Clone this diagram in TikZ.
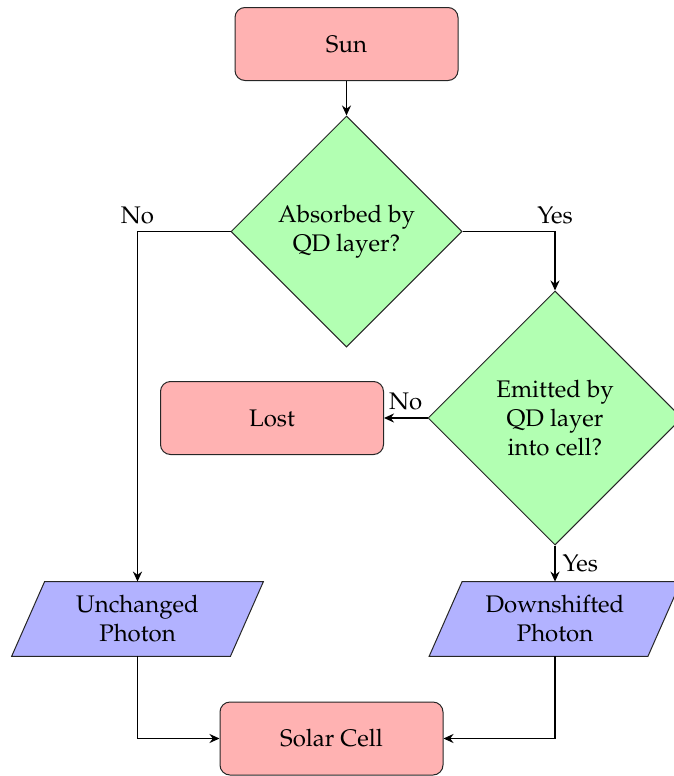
\documentclass[tikz,border=0pt]{standalone}
\usepackage[T1]{fontenc}
\usepackage{mathpazo}
\usetikzlibrary{shapes.geometric,arrows.meta,backgrounds,calc}
\begin{document}
\begin{tikzpicture}[x=0.5pt,y=-0.5pt,
  every node/.style={font=\fontsize{12}{14.5}\selectfont},
  procbox/.style={rectangle, rounded corners=5pt, draw=black!85, line width=0.5pt, fill=red!30, minimum width=111.5pt, minimum height=36.5pt, align=center, inner sep=0pt},
  decbox/.style={diamond, draw=black!85, line width=0.5pt, fill=green!30, align=center, inner sep=0pt},
  iobox/.style={rectangle, minimum width=109pt, minimum height=37pt, inner sep=0pt, align=center},
  iofill/.style={draw=black!85, line width=0.5pt, fill=blue!30},
  conn/.style={draw, line width=0.9pt, -{Stealth[length=5pt,width=4.5pt]}}]
\useasboundingbox (0,0) rectangle (674,776);
\node[procbox] (sun) at (346.5,44) {Sun};
\node[decbox, minimum size=115.5pt] (d1) at (346.5,231.5) {Absorbed by\\QD layer?};
\node[decbox, minimum size=127pt] (d2) at (555,418) {Emitted by\\QD layer\\into cell?};
\node[procbox] (lost) at (272,418) {Lost};
\node[iobox] (unch) at (137.5,619) {Unchanged\\Photon};
\node[iobox] (down) at (555,619) {Downshifted\\Photon};
\node[procbox] (cell) at (331.5,738.5) {Solar Cell};
\begin{scope}[on background layer]
\draw[iofill] ($(unch.north west)+(16.5,0)$) -- ($(unch.north east)+(16.5,0)$) -- ($(unch.south east)+(-16.5,0)$) -- ($(unch.south west)+(-16.5,0)$) -- cycle;
\draw[iofill] ($(down.north west)+(16.5,0)$) -- ($(down.north east)+(16.5,0)$) -- ($(down.south east)+(-16.5,0)$) -- ($(down.south west)+(-16.5,0)$) -- cycle;
\end{scope}
\draw[conn] (sun) -- (d1);
\draw[conn] (d1.west) -| node[pos=0.5, above] {No} (unch.north);
\draw[conn] (d1.east) -| node[pos=0.5, above] {Yes} (d2.north);
\draw[conn] (d2.west) -- node[above] {No} (lost.east);
\draw[conn] (d2.south) -- node[right] {Yes} (down.north);
\draw[conn] (unch.south) |- (cell.west);
\draw[conn] (down.south) |- (cell.east);
\end{tikzpicture}
\end{document}
